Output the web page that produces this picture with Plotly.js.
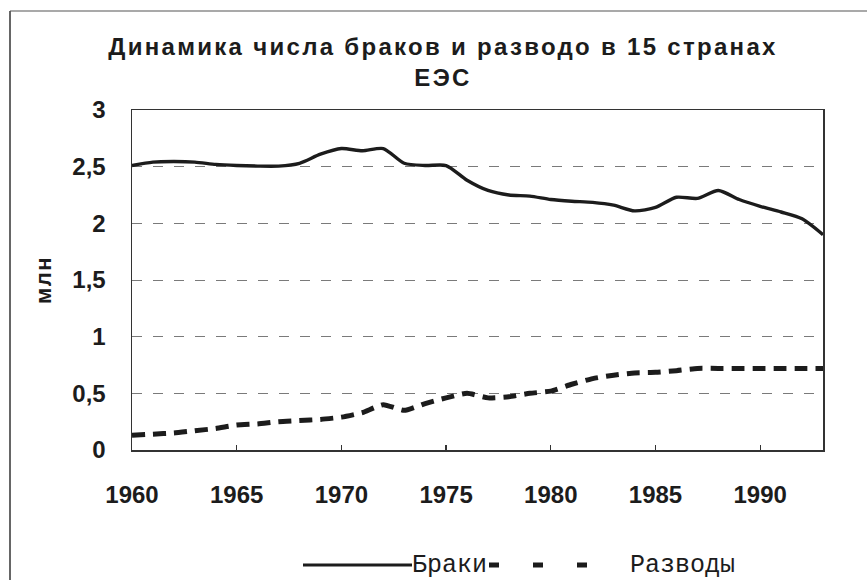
<!DOCTYPE html>
<html>
<head>
<meta charset="utf-8">
<script src="https://cdn.plot.ly/plotly-3.0.1.min.js"></script>
<style>
  html, body { margin: 0; padding: 0; background: #fff; }
  #chart { width: 867px; height: 580px; }
  #chart .gtitle { letter-spacing: 2.3px; }
  #chart .g-ytitle text { letter-spacing: 1.5px; }
</style>
</head>
<body>
<div id="chart"></div>
<script>
// ---- data ----
const years = [1960,1961,1962,1963,1964,1965,1966,1967,1968,1969,1970,1971,1972,1973,1974,1975,1976,
               1977,1978,1979,1980,1981,1982,1983,1984,1985,1986,1987,1988,1989,1990,1991,1992,1993];
const marriages = [2.51,2.54,2.545,2.54,2.52,2.51,2.505,2.505,2.53,2.61,2.66,2.64,2.66,2.53,2.51,2.51,2.38,
                   2.29,2.25,2.24,2.21,2.195,2.185,2.16,2.11,2.14,2.23,2.22,2.29,2.21,2.15,2.10,2.04,1.90];
const divorces = [0.13,0.14,0.15,0.17,0.19,0.22,0.23,0.25,0.26,0.27,0.29,0.33,0.40,0.35,0.41,0.46,0.50,
                  0.46,0.47,0.50,0.52,0.58,0.63,0.66,0.68,0.685,0.70,0.72,0.72,0.72,0.72,0.72,0.72,0.72];
const seriesNames = ['Браки', 'Разводы'];
const titleLines = ['Динамика числа браков и разводо в 15 странах', 'ЕЭС'];
const yTitle = 'млн';

// ---- layout geometry ----
const W = 867, H = 580;
const M = { l: 132, r: 44, t: 110, b: 130 };
const pw = W - M.l - M.r, ph = H - M.t - M.b;
const px = x => (x - M.l) / pw;          // pixel -> paper x
const py = y => (H - M.b - y) / ph;      // pixel -> paper y

const ink = '#1c1c1c';
const sans = 'Liberation Sans, Arial, sans-serif';
const mono = "'Liberation Mono', 'Courier New', 'DejaVu Sans Mono', monospace";

const traces = [
  { x: years, y: marriages, name: seriesNames[0], type: 'scatter', mode: 'lines',
    line: { color: ink, width: 3.4, shape: 'spline', smoothing: 0.7 } },
  { x: years, y: divorces, name: seriesNames[1], type: 'scatter', mode: 'lines',
    line: { color: ink, width: 5, dash: '13px,8px', shape: 'spline', smoothing: 0.5 } }
];

const legY = 565;
const shapes = [
  // outer frame of the figure (left and top)
  { type: 'line', xref: 'paper', yref: 'paper', x0: px(10), x1: px(10), y0: py(11), y1: py(582),
    line: { color: '#333', width: 1.5 } },
  { type: 'line', xref: 'paper', yref: 'paper', x0: px(10), x1: px(869), y0: py(11), y1: py(11),
    line: { color: '#555', width: 1.2 } },
  // legend samples
  { type: 'line', xref: 'paper', yref: 'paper', x0: px(303), x1: px(412), y0: py(legY), y1: py(legY),
    line: { color: ink, width: 3 } },
  { type: 'line', xref: 'paper', yref: 'paper', x0: px(489), x1: px(602), y0: py(legY), y1: py(legY),
    line: { color: ink, width: 5, dash: '10px,34px' } }
];

const legFont = { family: mono, size: 25, color: ink, weight: 'normal' };
const annotations = [
  { xref: 'paper', yref: 'paper', x: px(410), y: py(legY), xanchor: 'left', yanchor: 'middle',
    text: seriesNames[0], showarrow: false, font: legFont },
  { xref: 'paper', yref: 'paper', x: px(628), y: py(legY), xanchor: 'left', yanchor: 'middle',
    text: seriesNames[1], showarrow: false, font: legFont }
];

const baseFont = { family: sans, size: 24, color: ink, weight: 'bold' };

const layout = {
  width: W, height: H,
  margin: M,
  paper_bgcolor: '#fff', plot_bgcolor: '#fff',
  separators: ', ',
  showlegend: false,
  font: { family: sans, size: 24, color: ink },
  title: {
    text: titleLines.join('<br>'),
    font: { family: sans, size: 24, color: ink, weight: 'bold' },
    xref: 'container', yref: 'container',
    x: 443 / W, xanchor: 'center',
    y: 1 - 55 / H, yanchor: 'top'
  },
  xaxis: {
    range: [1960, 1993],
    tick0: 1960, dtick: 5,
    ticks: 'inside', ticklen: 5, tickwidth: 1.2, tickcolor: '#333',
    showgrid: false, zeroline: false,
    showline: true, linecolor: '#333', linewidth: 1.5, mirror: true,
    ticklabelstandoff: 23,
    tickfont: baseFont,
    fixedrange: true
  },
  yaxis: {
    range: [0, 3],
    tick0: 0, dtick: 0.5,
    ticks: '',
    showgrid: true, gridcolor: '#7a7a7a', gridwidth: 1, griddash: '10px,11px',
    zeroline: false,
    showline: true, linecolor: '#333', linewidth: 1.5, mirror: true,
    ticklabelstandoff: 20,
    tickfont: baseFont,
    title: { text: yTitle, font: { family: sans, size: 22, color: ink, weight: 'bold' }, standoff: 14 },
    fixedrange: true
  },
  shapes: shapes,
  annotations: annotations
};

Plotly.newPlot('chart', traces, layout, { staticPlot: true, displayModeBar: false });
</script>
</body>
</html>
